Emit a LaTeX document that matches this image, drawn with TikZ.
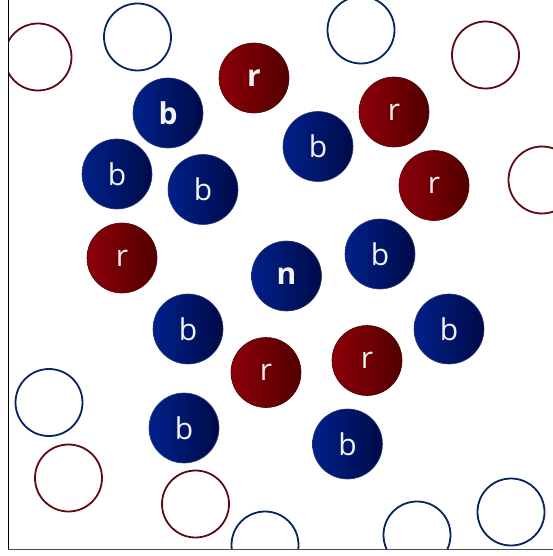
\documentclass[tikz,border=0pt]{standalone}
\usepackage{fontspec}
\setmainfont{Open Sans}
\definecolor{bleft}{HTML}{00218A}
\definecolor{bright}{HTML}{000A48}
\definecolor{bedge}{HTML}{2A3A78}
\definecolor{rleft}{HTML}{8C0009}
\definecolor{rright}{HTML}{520000}
\definecolor{redge}{HTML}{4A0508}
\definecolor{ringblue}{HTML}{06245E}
\definecolor{ringred}{HTML}{5E0A12}
\definecolor{label}{HTML}{F2F2F2}
\tikzset{
  ball/.style={circle, minimum size=70pt, inner sep=0pt, text=label,
    font=\fontsize{30}{32}\selectfont, line width=0.6pt},
  bball/.style={ball, shading=axis, left color=bleft, right color=bright, draw=bedge},
  rball/.style={ball, shading=axis, left color=rleft, right color=rright, draw=redge},
  heavy/.style={font=\fontsize{30}{32}\selectfont\bfseries},
  ring/.style={circle, minimum size=67pt, inner sep=0pt, line width=1.8pt, fill=white},
  bring/.style={ring, draw=ringblue},
  rring/.style={ring, draw=ringred},
  axisline/.style={line width=1pt}
}
\begin{document}
\begin{tikzpicture}[x=1pt,y=-1pt]
\useasboundingbox (0,0) rectangle (553,556);
\fill[white] (0,0) rectangle (553,556);
\begin{scope}
  \clip (8,0) rectangle (553,549);
  % empty rings
  \node[rring] (h1) at (38,57) {};
  \node[bring] (h2) at (137.5,37) {};
  \node[bring] (h3) at (361,30) {};
  \node[rring] (h4) at (485.5,55) {};
  \node[rring] (h5) at (542,180) {};
  \node[bring] (h6) at (49,402.5) {};
  \node[rring] (h7) at (68.5,478) {};
  \node[rring] (h8) at (195.5,504) {};
  \node[bring] (h9) at (265,545) {};
  \node[bring] (h10) at (417,535) {};
  \node[bring] (h11) at (511,512) {};
  % filled balls
  \node[rball, heavy] (r1) at (254,78) {r};
  \node[bball, heavy] (b1) at (168,113) {b};
  \node[rball] (r2) at (394,112) {r};
  \node[bball] (b2) at (318,146.5) {b};
  \node[bball] (b3) at (117,174) {b};
  \node[bball] (b4) at (203,189.5) {b};
  \node[rball] (r3) at (434,185.5) {r};
  \node[rball] (r4) at (122,258) {r};
  \node[bball, heavy] (n1) at (286.5,276) {n};
  \node[bball] (b5) at (380,254) {b};
  \node[bball] (b6) at (188,329) {b};
  \node[bball] (b7) at (449,329) {b};
  \node[rball] (r5) at (266,372.5) {r};
  \node[rball] (r6) at (367,360.5) {r};
  \node[bball] (b8) at (184,428) {b};
  \node[bball] (b9) at (347.5,444) {b};
\end{scope}
% frame
\draw[axisline, black] (8,0) -- (8,549.5);
\draw[axisline, black!70] (8,549.5) -- (553,549.5);
\end{tikzpicture}
\end{document}
